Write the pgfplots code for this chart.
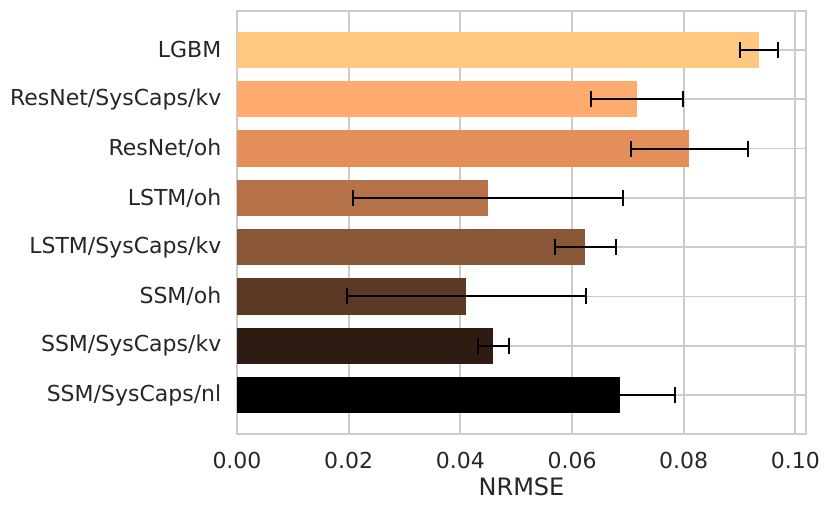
\documentclass[border=0pt]{standalone}
\usepackage{pgfplots}
\pgfplotsset{compat=1.18}
\usepackage{fontspec}
\setmainfont{DejaVu Sans}
\definecolor{txt}{HTML}{262626}
\definecolor{gridc}{HTML}{CCCCCC}
\definecolor{c1}{HTML}{FFC77F}
\definecolor{c2}{HTML}{FFAB6D}
\definecolor{c3}{HTML}{E48E5A}
\definecolor{c4}{HTML}{B67248}
\definecolor{c5}{HTML}{895636}
\definecolor{c6}{HTML}{5B3924}
\definecolor{c7}{HTML}{2E1C12}
\definecolor{c8}{HTML}{000000}
\begin{document}
\fontsize{11}{13}\selectfont
\begin{tikzpicture}
\begin{axis}[
  scale only axis,
  width=284.5pt, height=211.5pt,
  xmin=0, xmax=0.1019,
  ymin=-0.79, ymax=7.79,
  xtick={0,0.02,0.04,0.06,0.08,0.10},
  ytick={0,1,2,3,4,5,6,7},
  yticklabels={SSM/SysCaps/nl,SSM/SysCaps/kv,SSM/oh,LSTM/SysCaps/kv,LSTM/oh,ResNet/oh,ResNet/SysCaps/kv,LGBM},
  /pgf/number format/assume math mode=true,
  xticklabel style={/pgf/number format/fixed,/pgf/number format/precision=2,/pgf/number format/fixed zerofill, yshift=-5pt},
  scaled x ticks=false,
  yticklabel style={xshift=-4pt},
  ticklabel style={font=\fontsize{11}{13}\selectfont, text=txt},
  major tick length=0pt,
  grid=major,
  grid style={gridc, line width=0.9pt},
  axis line style={gridc, line width=0.9pt},
  xlabel={NRMSE},
  xlabel style={font=\fontsize{12}{14}\selectfont, text=txt, yshift=3pt},
  xbar, bar width=0.74, bar shift=0pt,
  error bars/error bar style={black, line width=1pt},
  error bars/error mark options={black, line width=1pt, mark size=4pt, rotate=90},
]
\addplot[fill=c1, draw=none, error bars/.cd, x dir=both, x explicit] coordinates {(0.0934,7) +- (0.0034,0)};
\addplot[fill=c2, draw=none, error bars/.cd, x dir=both, x explicit] coordinates {(0.0716,6) +- (0.0082,0)};
\addplot[fill=c3, draw=none, error bars/.cd, x dir=both, x explicit] coordinates {(0.0810,5) +- (0.0105,0)};
\addplot[fill=c4, draw=none, error bars/.cd, x dir=both, x explicit] coordinates {(0.0450,4) +- (0.0242,0)};
\addplot[fill=c5, draw=none, error bars/.cd, x dir=both, x explicit] coordinates {(0.0624,3) +- (0.0054,0)};
\addplot[fill=c6, draw=none, error bars/.cd, x dir=both, x explicit] coordinates {(0.0411,2) +- (0.0214,0)};
\addplot[fill=c7, draw=none, error bars/.cd, x dir=both, x explicit] coordinates {(0.0459,1) +- (0.0028,0)};
\addplot[fill=c8, draw=none, error bars/.cd, x dir=both, x explicit] coordinates {(0.0686,0) +- (0.0099,0)};
\end{axis}
\pgfresetboundingbox
\path[use as bounding box] (current axis.south west) ++(-118.5pt,-39pt) rectangle ++(415pt,256pt);
\end{tikzpicture}
\end{document}
